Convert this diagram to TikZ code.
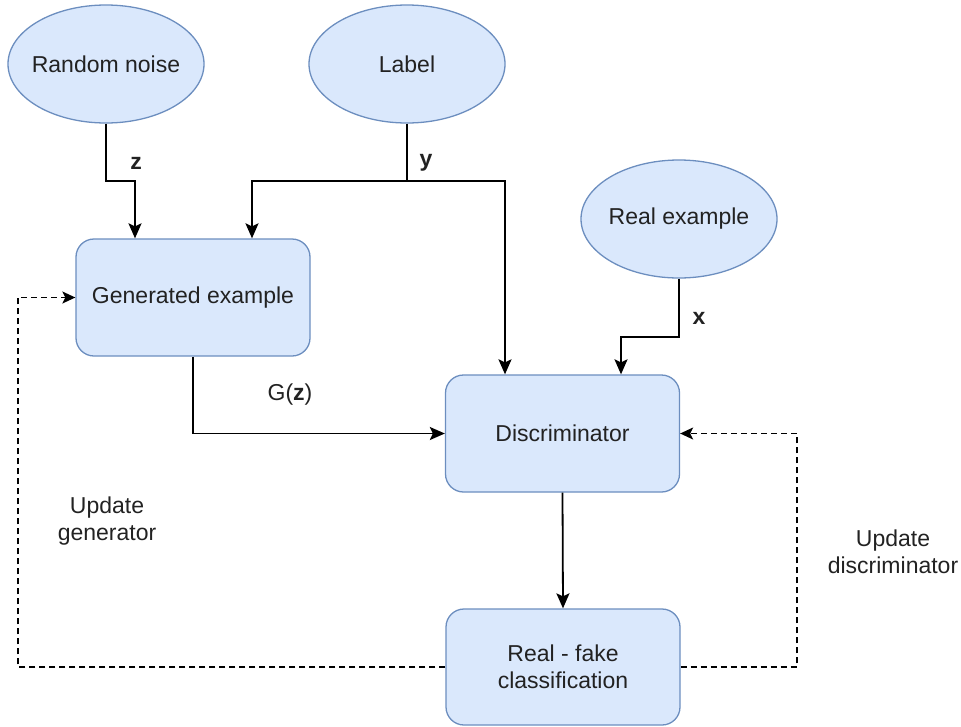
\documentclass[tikz,border=0pt]{standalone}
\usepackage{fontspec}
\setmainfont{Liberation Sans}
\usetikzlibrary{shapes.geometric,arrows.meta}
\definecolor{boxfill}{HTML}{DAE8FC}
\definecolor{boxline}{HTML}{6C8EBF}
\definecolor{txt}{HTML}{222222}
\begin{document}
\begin{tikzpicture}[x=1pt,y=-1pt,
  font=\fontsize{23}{27}\selectfont, text=txt,
  oval/.style={ellipse, draw=boxline, fill=boxfill, line width=1.3pt,
    minimum width=196pt, minimum height=118pt, inner sep=0pt},
  block/.style={rectangle, rounded corners=18pt, draw=boxline, fill=boxfill,
    line width=1.3pt, minimum width=234pt, minimum height=117pt, inner sep=0pt,
    align=center},
  link/.style={draw=black, line width=1.8pt},
  arr/.style={link, -{Stealth[length=15pt,width=13pt,inset=3pt]}},
  feedback/.style={link, -{Stealth[length=13pt,width=12pt,inset=3pt]},
    line width=1.4pt, dash pattern=on 6pt off 4pt},
  tag/.style={font=\fontsize{23}{27}\selectfont\bfseries, inner sep=0pt},
  note/.style={align=center, inner sep=0pt}]
\useasboundingbox (0,0) rectangle (961,726);

% input ellipses (text kept out of the shape size)
\node[oval] (noise) at (106,64) {\makebox[0pt]{Random noise}};
\node[oval] (label) at (407,64) {\makebox[0pt]{Label}};
\node[oval] (real)  at (679,219) {\makebox[0pt]{Real example}};

% processing blocks
\node[block] (gen)  at (193,297.5) {Generated example};
\node[block] (disc) at (562.5,433.5) {Discriminator};
\node[block, minimum height=116pt] (rf) at (563,667) {Real - fake\\classification};

% routing points
\coordinate (zb) at (135,181);
\coordinate (ly) at (407,181);
\coordinate (ga) at (252,181);
\coordinate (da) at (505,181);
\coordinate (xb) at (679,337);
\coordinate (xa) at (621,337);
\coordinate (fl) at (18,667);
\coordinate (fr) at (797,667);

% noise z into the generator
\draw[arr] (noise.south) |- (zb) -- (zb |- gen.north);
% label y into generator and discriminator
\draw[link] (label.south) -- (ly);
\draw[arr] (ly) -- (ga) -- (ga |- gen.north);
\draw[arr] (ly) -- (da) -- (da |- disc.north);
% real example x into the discriminator
\draw[arr] (real.south) -- (xb) -- (xa) -- (xa |- disc.north);
% generated sample into the discriminator
\draw[arr] (gen.south) |- (disc.west);
% discriminator output
\draw[arr] (disc.south) -- (rf.north);
% feedback loops
\draw[feedback] (rf.east) -- (fr) -- (fr |- disc.east) -- (disc.east);
\draw[feedback] (rf.west) -- (fl) -- (fl |- gen.west) -- (gen.west);

% edge labels
\node[tag] (zl) at (136,163) {z};
\node[tag] (yl) at (426,163) {y};
\node[tag] (xl) at (699,318) {x};
\node[inner sep=0pt] (gz) at (290,395) {G(\textbf{z})};
\node[note] (ug) at (107,521) {Update\\generator};
\node[note] (ud) at (893,552) {Update\\discriminator};
\end{tikzpicture}
\end{document}
